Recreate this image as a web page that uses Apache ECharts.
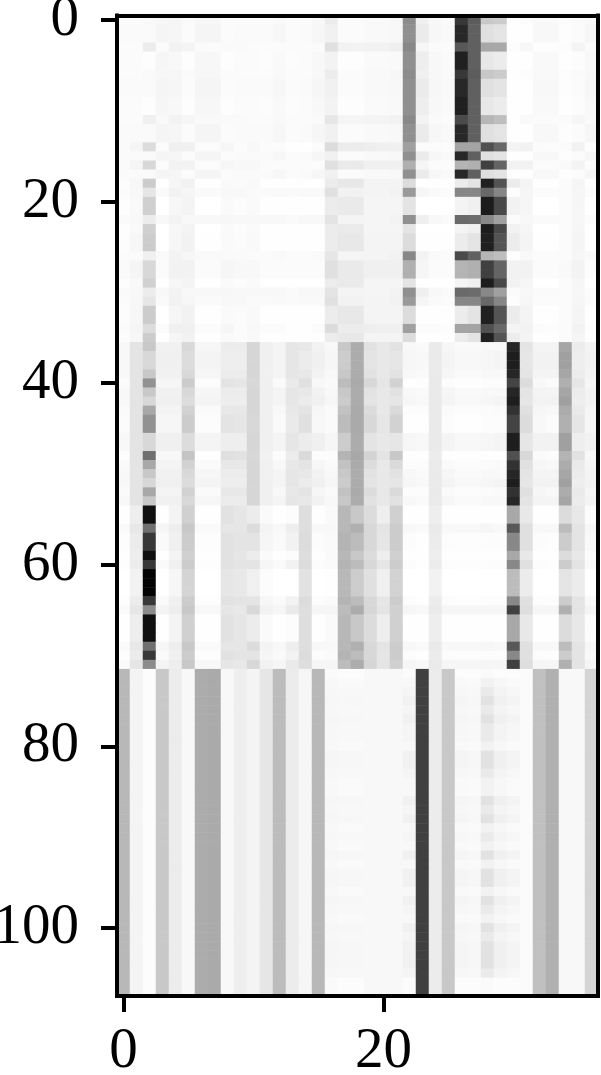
<!DOCTYPE html>
<html><head><meta charset="utf-8">
<style>html,body{margin:0;padding:0;background:#fff}#c{width:601px;height:1075px}</style>
<script src="https://cdn.jsdelivr.net/npm/echarts@6/dist/echarts.min.js"></script>
</head><body><div id="c"></div>
<script>
// Gray level of each column (0 = black, 255 = white).
// Rows that look alike share a profile; rowOrder lists the profile of each row.
const A0=[0xfb,0xfb,0xf9,0xf7,0xf6,0xfa,0xf7,0xf7,0xfb,0xfb,0xfb,0xfb,0xf9,0xfb,0xfb,0xf8,0xec,0xfb,0xfb,0xf9,0xf9,0xf7,0x8c,0xf0,0xf8,0xfa,0x38,0x5c,0xc8,0xcc,0xfe,0xfc,0xf9,0xf9,0xfc,0xfa,0xf8];
const A1=[0xfa,0xfa,0xfa,0xf5,0xf6,0xfb,0xf5,0xf5,0xfb,0xfa,0xfa,0xfa,0xf7,0xfb,0xfa,0xf6,0xf1,0xfb,0xfb,0xf9,0xf9,0xf8,0x90,0xeb,0xf7,0xf9,0x28,0x60,0xe0,0xe4,0xfe,0xfe,0xf8,0xf8,0xfd,0xfb,0xf6];
const A2=[0xfb,0xfb,0xfd,0xf6,0xf8,0xfd,0xf7,0xf7,0xfd,0xfb,0xfb,0xfc,0xf9,0xfc,0xfb,0xf8,0xf3,0xfd,0xfd,0xfa,0xfa,0xf9,0x90,0xee,0xf8,0xfa,0x20,0x60,0xe8,0xec,0xfe,0xfe,0xf9,0xf9,0xfe,0xfc,0xf8];
const Q1=[0xfb,0xfb,0xec,0xfb,0xf2,0xf4,0xfa,0xfb,0xfa,0xfa,0xfb,0xfb,0xfb,0xfb,0xfb,0xfb,0xe0,0xf2,0xf3,0xf2,0xf2,0xef,0x88,0xf6,0xfb,0xfb,0x58,0x60,0xa8,0xa8,0xfc,0xf7,0xfd,0xfd,0xfc,0xf4,0xfa];
const W1=[0xfb,0xfb,0xf0,0xf9,0xf3,0xf6,0xf9,0xf9,0xfa,0xfa,0xfb,0xfb,0xf9,0xfb,0xfb,0xfa,0xe6,0xf5,0xf5,0xf4,0xf4,0xf2,0x88,0xf3,0xfa,0xfb,0x4a,0x60,0xb6,0xbe,0xfe,0xf9,0xfb,0xfb,0xfb,0xf6,0xf9];
const R1=[0xfa,0xf5,0xdc,0xfb,0xf0,0xf0,0xfb,0xfb,0xf6,0xfb,0xf8,0xfb,0xfb,0xfe,0xfe,0xfb,0xdc,0xec,0xec,0xee,0xf0,0xf0,0xa0,0xfb,0xfb,0xfc,0xa4,0xa4,0x50,0x68,0xf4,0xf2,0xfb,0xfc,0xfb,0xf2,0xfd];
const X1=[0xfa,0xf5,0xd8,0xfb,0xf2,0xf2,0xfb,0xfb,0xf6,0xf8,0xf8,0xfb,0xfb,0xfb,0xfb,0xfb,0xe0,0xea,0xea,0xf0,0xf0,0xf0,0xb0,0xf6,0xfb,0xfb,0xb4,0xb0,0x40,0x64,0xf2,0xf2,0xfb,0xfb,0xf9,0xf3,0xfc];
const S1=[0xfc,0xf7,0xcc,0xff,0xf6,0xf2,0xfe,0xfe,0xfa,0xfb,0xf9,0xfe,0xfe,0xfe,0xfe,0xfe,0xec,0xe8,0xe8,0xf4,0xf4,0xf4,0xdc,0xfe,0xfe,0xfe,0xec,0xe4,0x20,0x54,0xec,0xf4,0xfe,0xfe,0xfb,0xf5,0xfe];
const T1=[0xfd,0xf9,0xd0,0xff,0xf7,0xf4,0xff,0xff,0xfa,0xfc,0xfa,0xfe,0xfe,0xfe,0xfe,0xfe,0xec,0xea,0xea,0xf5,0xf5,0xf5,0xe4,0xff,0xff,0xff,0xf4,0xf0,0x1c,0x48,0xf2,0xf6,0xff,0xff,0xfb,0xf6,0xff];
const U1=[0xfb,0xf8,0xe6,0xfa,0xf2,0xf6,0xfa,0xfa,0xf8,0xf8,0xfa,0xfa,0xf9,0xfa,0xf9,0xf9,0xe0,0xf2,0xf2,0xf4,0xf4,0xf2,0x9a,0xf6,0xfa,0xfb,0x86,0x86,0x68,0x86,0xfd,0xf6,0xfb,0xfb,0xfb,0xf6,0xfb];
const V1=[0xfa,0xf8,0xec,0xf8,0xf3,0xf8,0xf8,0xf8,0xf7,0xf8,0xf8,0xf8,0xf8,0xfa,0xf8,0xf8,0xe4,0xf4,0xf4,0xf5,0xf5,0xf3,0x90,0xef,0xf8,0xfa,0x6a,0x6c,0x88,0xa0,0xfb,0xf8,0xfa,0xfa,0xfb,0xf7,0xfb];
const H1=[0xf8,0xe4,0xd8,0xf0,0xf0,0xdc,0xf4,0xf4,0xee,0xee,0xd6,0xf0,0xf4,0xe6,0xec,0xf0,0xf6,0xcc,0xac,0xe4,0xe8,0xe6,0xf6,0xf8,0xea,0xf4,0xf8,0xf8,0xf6,0xf4,0x1e,0xe6,0xf2,0xf2,0xa0,0xee,0xf2];
const H2=[0xf8,0xe4,0xc8,0xf1,0xf1,0xd8,0xf6,0xf6,0xec,0xec,0xd6,0xf0,0xf4,0xe6,0xe8,0xf2,0xf8,0xc8,0xac,0xe2,0xe8,0xe2,0xf8,0xfa,0xea,0xf6,0xfa,0xfa,0xf8,0xf8,0x26,0xe4,0xf4,0xf4,0xa6,0xec,0xf3];
const H3=[0xfa,0xe4,0xa8,0xf4,0xf4,0xd2,0xfa,0xfa,0xe8,0xe8,0xd6,0xf0,0xf8,0xe8,0xe4,0xf6,0xfa,0xc2,0xaa,0xdc,0xe8,0xda,0xfc,0xfc,0xea,0xfa,0xfc,0xfc,0xfb,0xfa,0x32,0xe0,0xf6,0xf8,0xac,0xea,0xf5];
const H4=[0xfb,0xe4,0x92,0xf6,0xf6,0xcc,0xfc,0xfc,0xe4,0xe6,0xd8,0xf0,0xfa,0xea,0xe0,0xf8,0xfa,0xbc,0xaa,0xd8,0xe6,0xd2,0xfe,0xfe,0xea,0xfc,0xfe,0xfe,0xfc,0xfc,0x44,0xdc,0xf8,0xfb,0xb0,0xe6,0xf6];
const H5=[0xfd,0xe4,0x70,0xf8,0xf8,0xc4,0xfe,0xfe,0xe0,0xe2,0xd8,0xf2,0xfc,0xec,0xda,0xfc,0xfc,0xb4,0xa8,0xd4,0xe4,0xc8,0xfe,0xfe,0xec,0xfe,0xfe,0xfe,0xfe,0xfe,0x50,0xd8,0xfa,0xfc,0xb4,0xe2,0xf8];
const N1=[0xfa,0xe8,0x70,0xf6,0xee,0xc8,0xfa,0xfa,0xe6,0xe6,0xdc,0xf4,0xf8,0xee,0xde,0xf8,0xf8,0xb8,0xb0,0xd8,0xe4,0xcc,0xf8,0xfa,0xea,0xf8,0xf8,0xf8,0xf6,0xf8,0x58,0xe0,0xf8,0xf8,0xbc,0xe4,0xf6];
const M1=[0xfa,0xe6,0x8c,0xf4,0xee,0xc8,0xf8,0xf8,0xe6,0xe8,0xd8,0xf2,0xf6,0xea,0xde,0xf6,0xf6,0xbc,0xac,0xd6,0xe4,0xd0,0xf6,0xf8,0xea,0xf6,0xf6,0xf6,0xf6,0xf6,0x40,0xde,0xf6,0xf6,0xb0,0xe4,0xf4];
const K1=[0xfd,0xec,0x38,0xfa,0xf0,0xcc,0xfd,0xfd,0xe2,0xe4,0xe4,0xf6,0xfa,0xf2,0xdc,0xfc,0xfa,0xb4,0xbc,0xd8,0xe6,0xcc,0xfc,0xfe,0xec,0xfc,0xfd,0xfd,0xfc,0xfc,0x88,0xe0,0xfc,0xfd,0xcc,0xe4,0xf8];
const K2=[0xfe,0xee,0x10,0xfe,0xf4,0xd0,0xfe,0xfe,0xe2,0xe6,0xec,0xfa,0xfe,0xfc,0xde,0xfe,0xfa,0xb8,0xc8,0xdc,0xee,0xd0,0xfe,0xfe,0xee,0xfe,0xfe,0xfe,0xfe,0xfe,0xa8,0xe8,0xfe,0xfe,0xdc,0xe8,0xfb];
const L1=[0xff,0xf2,0x04,0xff,0xf6,0xd4,0xff,0xff,0xe6,0xe8,0xf0,0xfc,0xff,0xff,0xe2,0xff,0xfe,0xb8,0xcc,0xe0,0xf0,0xd2,0xff,0xff,0xf2,0xff,0xff,0xff,0xff,0xff,0xbc,0xec,0xff,0xff,0xe4,0xec,0xfe];
const C1=[0xb8,0xf4,0xfc,0xc8,0xec,0xf8,0xac,0xaa,0xf8,0xee,0xf4,0xe6,0xbc,0xec,0xf6,0xb8,0xf6,0xf7,0xf7,0xf8,0xf8,0xf8,0xf1,0x40,0xec,0xc8,0xf5,0xf7,0xe2,0xf0,0xf4,0xfb,0xc0,0xb0,0xf8,0xf8,0xd4];
const C2=[0xb8,0xf4,0xfc,0xc8,0xec,0xf8,0xac,0xaa,0xf8,0xee,0xf4,0xe6,0xbc,0xec,0xf6,0xb8,0xf7,0xf8,0xf8,0xf8,0xf8,0xf8,0xf5,0x40,0xec,0xc8,0xf7,0xf8,0xea,0xf4,0xf7,0xfb,0xc0,0xb0,0xf8,0xf8,0xd4];
const C3=[0xb8,0xf4,0xfc,0xc8,0xec,0xf8,0xac,0xaa,0xf8,0xee,0xf4,0xe6,0xbc,0xec,0xf6,0xb8,0xf8,0xfa,0xfa,0xf8,0xf8,0xf8,0xf8,0x40,0xec,0xc8,0xf9,0xfa,0xf2,0xf7,0xfa,0xfb,0xc0,0xb0,0xf8,0xf8,0xd4];
const C4=[0xb8,0xf4,0xfc,0xc8,0xec,0xf8,0xac,0xaa,0xf8,0xee,0xf4,0xe6,0xbc,0xec,0xf6,0xb8,0xfa,0xfc,0xfc,0xf8,0xf8,0xf8,0xfb,0x40,0xec,0xc8,0xfc,0xfc,0xfa,0xfc,0xfc,0xfb,0xc0,0xb0,0xf8,0xf8,0xd4];
const rowOrder=[
 A0,A1,A1,Q1,A2,A2,A0,A1,A1,A2,A2,W1,A1,A1,R1,A1,X1,A1,
 S1,U1,T1,T1,V1,T1,S1,S1,W1,X1,X1,T1,V1,U1,S1,S1,R1,S1,
 H2,H1,H1,H2,H4,H2,H1,H3,H4,H4,H1,H1,H5,H3,H2,H1,H3,H2,
 K2,K2,N1,K1,K1,K2,K1,L1,L1,L1,K1,M1,K2,K2,K2,N1,K1,M1,
 C4,C3,C2,C1,C2,C1,C2,C2,C3,C1,C1,C2,C3,C3,C1,C2,C1,C3,
 C2,C3,C1,C3,C1,C1,C3,C1,C2,C3,C1,C2,C1,C1,C1,C2,C4,C4
];
const xTickEvery=20, yTickEvery=20;
const xCats=Array.from({length:37},(_,i)=>String(i));
const yCats=rowOrder.map((_,i)=>String(i));
const cells=[];
rowOrder.forEach((row,r)=>row.forEach((g,c)=>cells.push([c,r,g])));
const tickFn=n=>(i)=>i%n===0;
const chart=echarts.init(document.getElementById('c'),null,{renderer:'canvas'});
const font={color:'#000',fontFamily:'"Liberation Serif",serif',fontSize:57};
chart.setOption({
 animation:false,
 grid:{left:117,top:15.5,width:481,height:980.5,containLabel:false,outerBoundsMode:'none'},
 visualMap:{show:false,min:0,max:255,dimension:2,inRange:{color:['#000000','#ffffff']}},
 xAxis:[
  {type:'category',data:xCats,position:'bottom',z:5,
   axisLine:{show:true,onZero:false,lineStyle:{color:'#000',width:4,cap:'square'}},
   axisTick:{show:true,length:16,alignWithLabel:true,interval:tickFn(xTickEvery),lineStyle:{color:'#000',width:4}},
   axisLabel:{...font,interval:tickFn(xTickEvery),margin:28},splitLine:{show:false},splitArea:{show:false}},
  {type:'category',data:xCats,position:'top',z:5,
   axisLine:{show:true,onZero:false,lineStyle:{color:'#000',width:4,cap:'square'}},
   axisTick:{show:false},axisLabel:{show:false},splitLine:{show:false},splitArea:{show:false}}
 ],
 yAxis:[
  {type:'category',data:yCats,inverse:true,position:'left',z:5,
   axisLine:{show:true,onZero:false,lineStyle:{color:'#000',width:4,cap:'square'}},
   axisTick:{show:true,length:16,alignWithLabel:true,interval:tickFn(yTickEvery),lineStyle:{color:'#000',width:4}},
   axisLabel:{...font,interval:tickFn(yTickEvery),margin:38,padding:[4,0,0,0]},splitLine:{show:false},splitArea:{show:false}},
  {type:'category',data:yCats,inverse:true,position:'right',z:5,
   axisLine:{show:true,onZero:false,lineStyle:{color:'#000',width:4,cap:'square'}},
   axisTick:{show:false},axisLabel:{show:false},splitLine:{show:false},splitArea:{show:false}}
 ],
 series:[{type:'heatmap',data:cells,xAxisIndex:0,yAxisIndex:0,progressive:0,itemStyle:{borderWidth:0},emphasis:{disabled:true}}]
});
</script></body></html>
